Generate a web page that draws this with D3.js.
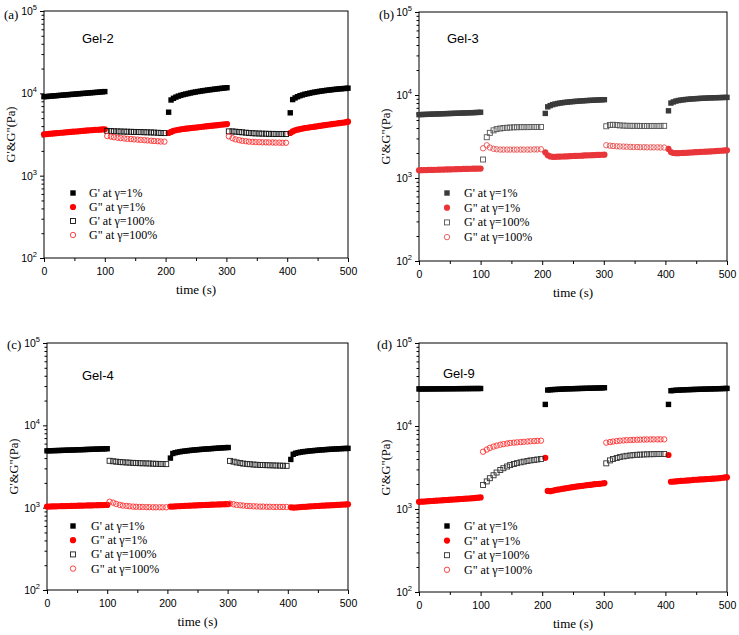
<!DOCTYPE html>
<html><head><meta charset="utf-8">
<script src="https://cdn.jsdelivr.net/npm/d3@7"></script>
<style>body{margin:0;background:#fff}svg{display:block}</style>
</head><body>
<script>
// ---- DATA ----
const T1 = [0,4,8,12,16,20,24,28,32,36,40,44,48,52,56,60,64,68,72,76,80,84,88,92,96,100];
const T2 = [205,209,213,217,221,225,229,233,237,241,245,249,253,257,261,265,269,273,277,281,285,289,293,297,301];
const T3 = [405,409,413,417,421,425,429,433,437,441,445,449,453,457,461,465,469,473,477,481,485,489,493,497,500];
const S1 = [104,110,115,121,126,132,137,143,148,154,159,165,170,176,181,187,192,198];
const S2 = [304,310,315,321,326,332,337,343,348,354,359,365,370,376,381,387,392,398];
const xTicks = [0,100,200,300,400,500];
const yTicks = [100,1000,10000,100000];
const yTickExp = ["2","3","4","5"];
const panelLabels = ["(a)","(b)","(c)","(d)"];
const gelNames = ["Gel-2","Gel-3","Gel-4","Gel-9"];
const legendLabels = ["G' at \u03b3=1%", "G\" at \u03b3=1%", "G' at \u03b3=100%", "G\" at \u03b3=100%"];
const xTitle = "time (s)";
const yTitle = "G'&G\"(Pa)";

// Gel-2
const gel2_Gp1 = [9100,9150,9200,9260,9310,9360,9420,9470,9530,9580,9640,9690,9750,9800,9860,9920,9970,10030,10080,10140,10200,10250,10310,10370,10430,10500,
 5900,8300,8700,9000,9250,9450,9650,9800,9950,10100,10250,10380,10500,10620,10730,10840,10950,11050,11150,11250,11350,11440,11530,11620,11700,
 5800,8400,8800,9100,9350,9550,9750,9900,10050,10200,10330,10450,10570,10680,10780,10880,10970,11060,11150,11230,11300,11370,11430,11490,11550];
const gel2_Gpp1 = [3180,3200,3220,3240,3260,3280,3300,3320,3340,3360,3380,3400,3420,3440,3460,3480,3500,3520,3540,3560,3580,3600,3610,3620,3640,3650,
 3300,3400,3500,3560,3610,3650,3690,3720,3750,3780,3810,3840,3870,3900,3930,3960,3990,4020,4050,4080,4110,4140,4170,4200,4230,
 3300,3450,3550,3620,3680,3730,3780,3820,3860,3900,3940,3980,4020,4060,4100,4140,4180,4220,4260,4300,4340,4380,4420,4460,4530];
const gel2_Gp100 = [3500,3480,3460,3450,3440,3430,3420,3410,3400,3390,3380,3370,3360,3350,3340,3320,3300,3290,
 3450,3450,3420,3390,3360,3330,3300,3280,3260,3250,3240,3230,3220,3220,3210,3210,3200,3200];
const gel2_Gpp100 = [3030,2980,2930,2890,2860,2830,2800,2780,2760,2740,2720,2700,2680,2660,2640,2620,2600,2590,
 3000,2850,2760,2700,2650,2620,2590,2570,2560,2550,2540,2540,2530,2530,2520,2520,2510,2510];

// Gel-3
const gel3_Gp1 = [5800,5815,5830,5845,5860,5875,5890,5905,5920,5935,5950,5965,5980,5995,6010,6025,6040,6055,6070,6085,6100,6115,6130,6150,6170,6200,
 6000,7200,7450,7650,7800,7900,8000,8080,8150,8210,8270,8320,8370,8420,8460,8500,8540,8580,8610,8640,8670,8700,8730,8760,8780,
 6450,8000,8250,8450,8580,8680,8760,8830,8890,8940,8990,9030,9070,9110,9140,9170,9200,9230,9250,9270,9290,9310,9330,9350,9360];
const gel3_Gpp1 = [1240,1242,1245,1247,1250,1252,1255,1257,1260,1262,1265,1267,1270,1272,1275,1277,1280,1282,1285,1287,1290,1292,1295,1297,1300,1300,
 2040,1880,1820,1800,1800,1805,1810,1815,1820,1825,1830,1840,1845,1850,1855,1860,1870,1875,1880,1885,1890,1895,1900,1905,1910,
 2240,2050,2000,1990,1990,2000,2005,2010,2020,2030,2040,2045,2050,2060,2070,2075,2080,2090,2100,2110,2120,2130,2140,2150,2160];
const gel3_Gp100 = [1670,3100,3500,3750,3880,3950,4000,4030,4060,4080,4090,4100,4100,4100,4110,4110,4120,4120,
 4200,4350,4380,4350,4300,4280,4260,4250,4250,4250,4240,4240,4240,4240,4240,4240,4240,4250];
const gel3_Gpp100 = [2280,2480,2330,2250,2220,2200,2200,2200,2200,2200,2200,2200,2200,2200,2200,2210,2210,2220,
 2480,2450,2430,2410,2400,2390,2380,2370,2360,2360,2350,2350,2340,2340,2340,2340,2330,2330];

// Gel-4
const gel4_Gp1 = [4900,4910,4920,4930,4940,4950,4960,4975,4990,5000,5010,5020,5035,5050,5060,5070,5085,5100,5110,5120,5135,5150,5160,5170,5185,5200,
 4000,4550,4650,4720,4780,4830,4870,4910,4950,4990,5020,5050,5080,5110,5140,5160,5190,5210,5240,5260,5290,5310,5340,5360,5380,
 3850,4450,4580,4660,4720,4770,4810,4850,4890,4920,4950,4980,5010,5040,5060,5090,5110,5130,5150,5170,5190,5210,5230,5240,5250];
const gel4_Gpp1 = [1030,1032,1034,1036,1038,1040,1042,1044,1046,1048,1050,1052,1054,1056,1058,1060,1062,1064,1066,1068,1070,1072,1074,1076,1078,1080,
 1030,1030,1035,1040,1045,1048,1052,1055,1058,1062,1065,1068,1071,1074,1077,1080,1083,1086,1089,1092,1095,1098,1100,1103,1106,
 1010,1000,1005,1010,1015,1020,1025,1030,1035,1040,1045,1048,1052,1056,1060,1064,1068,1072,1076,1080,1084,1088,1092,1096,1100];
const gel4_Gp100 = [3710,3660,3620,3590,3560,3540,3520,3500,3480,3470,3460,3450,3440,3420,3410,3400,3390,3380,
 3700,3620,3540,3480,3430,3400,3370,3340,3320,3300,3290,3280,3270,3260,3250,3240,3230,3220];
const gel4_Gpp100 = [1180,1150,1110,1080,1060,1050,1040,1030,1025,1020,1020,1015,1015,1010,1010,1010,1010,1010,
 1120,1100,1080,1070,1060,1050,1045,1040,1035,1030,1030,1025,1025,1020,1020,1020,1020,1020];

// Gel-9
const gel9_Gp1 = [27900,27920,27940,27950,27970,27990,28000,28020,28040,28050,28070,28090,28100,28120,28140,28150,28170,28190,28200,28220,28240,28250,28270,28280,28290,28300,
 18200,27100,27300,27450,27550,27650,27750,27850,27950,28000,28080,28150,28200,28260,28320,28380,28430,28480,28530,28580,28630,28680,28740,28800,28900,
 18200,26600,26800,26950,27050,27150,27250,27330,27400,27470,27540,27600,27660,27720,27780,27840,27900,27950,28000,28060,28120,28180,28240,28300,28400];
const gel9_Gpp1 = [1220,1225,1230,1236,1242,1248,1254,1260,1266,1272,1278,1284,1290,1296,1302,1308,1314,1320,1326,1332,1338,1344,1350,1360,1370,1380,
 4140,1650,1640,1660,1690,1710,1730,1750,1770,1790,1810,1830,1850,1870,1890,1900,1920,1940,1950,1970,1990,2000,2010,2030,2050,
 4470,2130,2140,2150,2170,2180,2190,2200,2210,2220,2240,2250,2260,2270,2280,2290,2300,2310,2320,2330,2340,2360,2380,2400,2410];
const gel9_Gp100 = [1950,2150,2350,2550,2750,2950,3100,3250,3380,3480,3570,3650,3720,3790,3850,3900,3950,4000,
 3550,3850,4000,4120,4220,4300,4370,4420,4460,4500,4520,4540,4560,4570,4580,4590,4600,4600];
const gel9_Gpp100 = [4900,5200,5450,5650,5800,5950,6050,6150,6250,6300,6350,6400,6450,6500,6550,6580,6620,6650,
 6300,6400,6500,6580,6650,6700,6750,6780,6800,6830,6850,6870,6880,6890,6900,6900,6900,6900];

// ---- LAYOUT / STYLE ----
const W = 739, H = 635;
const panels = [
  {L:44, R:348, T:11, B:258, label:[4,19], gel:[82,43], leg:[73,89,193,14], data:[gel2_Gp1,gel2_Gpp1,gel2_Gp100,gel2_Gpp100],
   colors:["#000","#ff0000","#111","#ff3030"]},
  {L:419, R:727, T:12, B:261, label:[379,19], gel:[447,43], leg:[447,464,193,14.7], data:[gel3_Gp1,gel3_Gpp1,gel3_Gp100,gel3_Gpp100],
   colors:["#3a3a3a","#e8363a","#555","#e85050"]},
  {L:47, R:348, T:343, B:590, label:[7,349], gel:[82,380], leg:[73,91,526,14.2], data:[gel4_Gp1,gel4_Gpp1,gel4_Gp100,gel4_Gpp100],
   colors:["#000","#ff0000","#222","#ff3030"]},
  {L:419, R:727, T:343, B:592, label:[377,349], gel:[443,378], leg:[447,464,526,14.6], data:[gel9_Gp1,gel9_Gpp1,gel9_Gp100,gel9_Gpp100],
   colors:["#000","#ff0000","#333","#ff3030"]}
];
const serif = "'Liberation Serif','Times New Roman',serif";
const sans = "'Liberation Sans',Arial,sans-serif";

const svg = d3.select("body").append("svg").attr("width",W).attr("height",H);

const tFilled = T1.concat(T2,T3);
const tOpen = S1.concat(S2);

function drawMarker(g, kind, color, x, y){
  if(kind===0){ g.append("rect").attr("x",x-2.7).attr("y",y-2.7).attr("width",5.4).attr("height",5.4).attr("fill",color); }
  else if(kind===1){ g.append("circle").attr("cx",x).attr("cy",y).attr("r",3.1).attr("fill",color); }
  else if(kind===2){ g.append("rect").attr("x",x-2.5).attr("y",y-2.5).attr("width",5).attr("height",5).attr("fill","none").attr("stroke",color).attr("stroke-width",0.9); }
  else { g.append("circle").attr("cx",x).attr("cy",y).attr("r",2.7).attr("fill","none").attr("stroke",color).attr("stroke-width",0.9); }
}

panels.forEach((p,i)=>{
  const g = svg.append("g");
  const x = d3.scaleLinear().domain([0,500]).range([p.L,p.R]);
  const y = d3.scaleLog().domain([100,100000]).range([p.B,p.T]);

  g.append("rect").attr("x",p.L).attr("y",p.T).attr("width",p.R-p.L).attr("height",p.B-p.T)
    .attr("fill","none").attr("stroke","#000").attr("stroke-width",1);

  const xa = d3.axisBottom(x).tickValues(xTicks).tickSize(4).tickFormat(d3.format("d"));
  const xg = g.append("g").attr("transform",`translate(0,${p.B})`).call(xa);
  xg.select(".domain").remove();
  xg.selectAll("text").attr("font-family",sans).attr("font-size",10.5).attr("fill","#000").attr("dy","0.95em");
  const xminor = d3.axisBottom(x).tickValues([50,150,250,350,450]).tickSize(3).tickFormat("");
  const xmg = g.append("g").attr("transform",`translate(0,${p.B})`).call(xminor);
  xmg.select(".domain").remove();

  const ya = d3.axisLeft(y).tickValues(yTicks).tickSize(4).tickFormat("");
  const yg = g.append("g").attr("transform",`translate(${p.L},0)`).call(ya);
  yg.select(".domain").remove();
  const minors = [];
  [100,1000,10000].forEach(d=>{ for(let k=2;k<10;k++) minors.push(d*k); });
  const ym = d3.axisLeft(y).tickValues(minors).tickSize(2.5).tickFormat("");
  const ymg = g.append("g").attr("transform",`translate(${p.L},0)`).call(ym);
  ymg.select(".domain").remove();
  yTicks.forEach((v,k)=>{
    const t = g.append("text").attr("x",p.L-7).attr("y",y(v)+4).attr("text-anchor","end")
      .attr("font-family",sans).attr("font-size",10.5).attr("fill","#000");
    t.append("tspan").text("10");
    t.append("tspan").attr("dy",-5).attr("font-size",7.5).text(yTickExp[k]);
  });

  g.append("text").attr("x",(p.L+p.R)/2).attr("y",p.B+36).attr("text-anchor","middle")
    .attr("font-family",serif).attr("font-size",13).text(xTitle);
  g.append("text").attr("transform",`translate(${p.L-29},${(p.T+p.B)/2}) rotate(-90)`).attr("text-anchor","middle")
    .attr("font-family",serif).attr("font-size",12.5).text(yTitle);
  g.append("text").attr("x",p.label[0]).attr("y",p.label[1]).attr("font-family",serif).attr("font-size",13).text(panelLabels[i]);
  g.append("text").attr("x",p.gel[0]).attr("y",p.gel[1]).attr("font-family",sans).attr("font-size",13).text(gelNames[i]);

  const dg = g.append("g");
  p.data.forEach((arr,k)=>{
    const ts = k<2 ? tFilled : tOpen;
    arr.forEach((v,j)=>drawMarker(dg,k,p.colors[k],x(ts[j]),y(v)));
  });

  legendLabels.forEach((lab,k)=>{
    const yy = p.leg[2] + k*p.leg[3];
    drawMarker(g,k,p.colors[k],p.leg[0],yy);
    g.append("text").attr("x",p.leg[1]).attr("y",yy+4).attr("font-family",serif).attr("font-size",12).text(lab);
  });
});
</script>
</body></html>
